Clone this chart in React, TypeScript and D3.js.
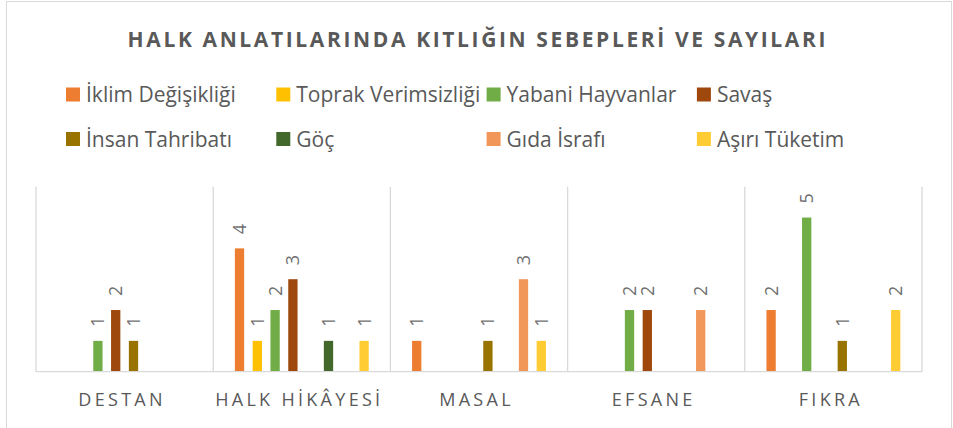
import React from "react";
import * as d3 from "d3";

const categories = ["DESTAN", "HALK HİKÂYESİ", "MASAL", "EFSANE", "FIKRA"];
const seriesNames = [
  "İklim Değişikliği",
  "Toprak Verimsizliği",
  "Yabani Hayvanlar",
  "Savaş",
  "İnsan Tahribatı",
  "Göç",
  "Gıda İsrafı",
  "Aşırı Tüketim",
];
const seriesColors = [
  "#ED7D31",
  "#FFC000",
  "#70AD47",
  "#9E480E",
  "#997300",
  "#43682B",
  "#F1975A",
  "#FFCD33",
];
const iklim = [0, 4, 1, 0, 2];
const toprak = [0, 1, 0, 0, 0];
const yabani = [1, 2, 0, 2, 5];
const savas = [2, 3, 0, 2, 0];
const insan = [1, 0, 1, 0, 1];
const goc = [0, 1, 0, 0, 0];
const gida = [0, 0, 3, 2, 0];
const asiri = [0, 1, 1, 0, 2];
const seriesValues = [iklim, toprak, yabani, savas, insan, goc, gida, asiri];
const title = "HALK ANLATILARINDA KITLIĞIN SEBEPLERİ VE SAYILARI";

const W = 953;
const H = 428;
const FONT = "'Open Sans', 'Noto Sans', sans-serif";
const TEXT = "#595959";
const GRID = "#D9D9D9";

export default function App() {
  const plot = { left: 36, right: 922, top: 186.7, bottom: 371.7 };
  const x0 = d3.scaleBand<string>().domain(categories).range([plot.left, plot.right]).padding(0);
  const x1 = d3
    .scaleBand<number>()
    .domain(d3.range(seriesNames.length))
    .range([0, x0.bandwidth()])
    .paddingInner(0.478)
    .paddingOuter(1.217);
  const y = d3.scaleLinear().domain([0, 6]).range([plot.bottom, plot.top]);

  const boundaries = categories.map((c) => x0(c) as number).concat([plot.right]);
  const catLs = 3.3;
  const legendCols = 4;
  const legendX0 = 66;
  const legendDx = 210.3;
  const legendRowY = [94.5, 139];
  const labelSize = 18;

  return (
    <svg
      width={W}
      height={H}
      style={{ position: "absolute", left: 0, top: 0, display: "block", background: "#fff" }}
      fontFamily={FONT}
    >
      <rect x={0} y={0} width={W} height={H} fill="#fff" />
      <rect x={6.5} y={1.5} width={945} height={460} fill="none" stroke={GRID} strokeWidth={1} />

      <text
        x={W / 2 + 1.3}
        y={46.5}
        textAnchor="middle"
        fontSize={21}
        fontWeight={700}
        fill={TEXT}
        letterSpacing={2.63}
      >
        {title}
      </text>

      {seriesNames.map((name, i) => {
        const col = i % legendCols;
        const row = Math.floor(i / legendCols);
        const sx = legendX0 + col * legendDx;
        const cy = legendRowY[row];
        return (
          <g key={name}>
            <rect x={sx} y={cy - 7} width={14} height={14} fill={seriesColors[i]} />
            <text x={sx + 20} y={cy + 7.5} fontSize={21} fill={TEXT}>
              {name}
            </text>
          </g>
        );
      })}

      {boundaries.map((bx, i) => (
        <line key={"sep" + i} x1={bx} x2={bx} y1={plot.top} y2={plot.bottom} stroke={GRID} strokeWidth={1.3} />
      ))}

      {categories.map((c, ci) => (
        <g key={c} transform={`translate(${x0(c)},0)`}>
          {seriesValues.map((vals, si) => {
            const v = vals[ci];
            if (!v) return null;
            const bx = x1(si) as number;
            const top = y(v);
            const cx = bx + x1.bandwidth() / 2;
            return (
              <g key={si}>
                <rect x={bx} y={top} width={x1.bandwidth()} height={plot.bottom - top} fill={seriesColors[si]} />
                <text
                  transform={`translate(${cx + labelSize * 0.357},${top - 14}) rotate(-90)`}
                  fontSize={labelSize}
                  fill="#707070"
                  textAnchor="start"
                >
                  {v}
                </text>
              </g>
            );
          })}
        </g>
      ))}

      <line x1={plot.left} x2={plot.right} y1={plot.bottom} y2={plot.bottom} stroke={GRID} strokeWidth={1.3} />

      {categories.map((c) => (
        <text
          key={"lab" + c}
          x={(x0(c) as number) + x0.bandwidth() / 2 - 2.5}
          y={405.5}
          textAnchor="middle"
          fontSize={18}
          fill={TEXT}
          letterSpacing={catLs}
        >
          {c}
        </text>
      ))}
    </svg>
  );
}
